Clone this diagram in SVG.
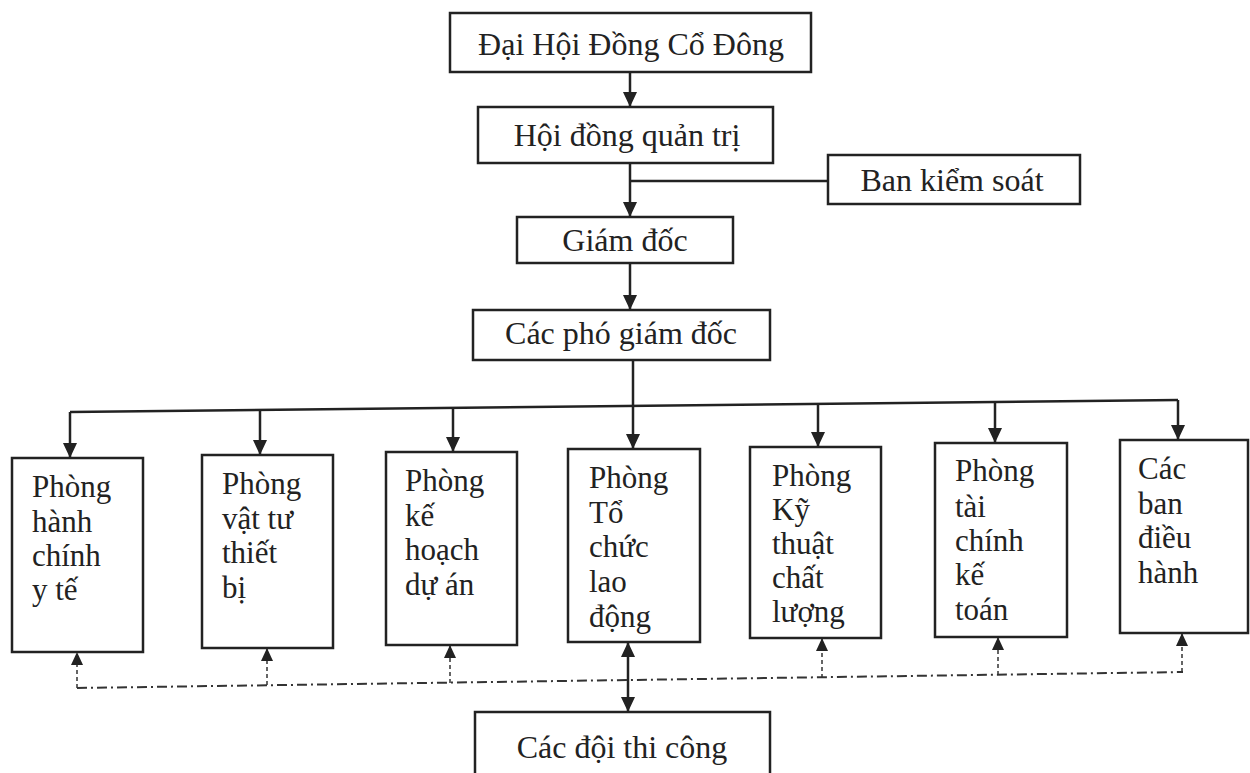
<svg xmlns="http://www.w3.org/2000/svg" width="1250" height="773" viewBox="0 0 1250 773">
<defs>
<marker id="arr" markerUnits="userSpaceOnUse" markerWidth="16" markerHeight="16" refX="15" refY="8" orient="auto-start-reverse">
<path d="M0,1 L15,8 L0,15 Z" fill="#222"/>
</marker>
<marker id="arrs" markerUnits="userSpaceOnUse" markerWidth="14" markerHeight="14" refX="13" refY="7" orient="auto-start-reverse">
<path d="M0,1 L13,7 L0,13 Z" fill="#222"/>
</marker>
</defs>
<style>
.box{fill:#fff;stroke:#222;stroke-width:2.5}
.t{font-family:"Liberation Serif","Times New Roman",serif;font-size:32px;fill:#222}
.d{font-family:"Liberation Serif","Times New Roman",serif;font-size:31px;fill:#222}
.c{stroke:#222;stroke-width:2.5;fill:none}
.dd{stroke:#333;stroke-width:2;fill:none;stroke-dasharray:10 4 2 4}
.dv{stroke:#333;stroke-width:1.5;fill:none;stroke-dasharray:4 3}
</style>
<rect width="1250" height="773" fill="#fff"/>
<g id="connectors">
<path class="c" d="M630,72 V107" marker-end="url(#arr)"/>
<path class="c" d="M630,163 V217" marker-end="url(#arr)"/>
<path class="c" d="M630,181 H828"/>
<path class="c" d="M630,263 V310" marker-end="url(#arr)"/>
<path class="c" d="M633,360 V449" marker-end="url(#arr)"/>
<path class="c" d="M70,412 L1178,400"/>
<path class="c" d="M70,412 V458" marker-end="url(#arr)"/>
<path class="c" d="M260,410 V455" marker-end="url(#arr)"/>
<path class="c" d="M453,408 V452" marker-end="url(#arr)"/>
<path class="c" d="M818,404 V447" marker-end="url(#arr)"/>
<path class="c" d="M995,402 V443" marker-end="url(#arr)"/>
<path class="c" d="M1178,400 V440" marker-end="url(#arr)"/>
<path class="dd" d="M77,688 L1183,672"/>
<path class="dv" d="M77,688 V652" marker-end="url(#arrs)"/>
<path class="dv" d="M267,685 V648" marker-end="url(#arrs)"/>
<path class="dv" d="M450,683 V645" marker-end="url(#arrs)"/>
<path class="dv" d="M822,678 V638" marker-end="url(#arrs)"/>
<path class="dv" d="M998,675 V637" marker-end="url(#arrs)"/>
<path class="dv" d="M1182,672 V633" marker-end="url(#arrs)"/>
<path class="c" d="M628,642 V712" marker-start="url(#arr)" marker-end="url(#arr)"/>
</g>
<g id="n-dhdcd"><rect class="box" x="450" y="13" width="361" height="59"/><text class="t" x="631" y="55" text-anchor="middle">Đại Hội Đồng Cổ Đông</text></g>
<g id="n-hdqt"><rect class="box" x="478" y="107" width="295" height="56"/><text class="t" x="627" y="146" text-anchor="middle">Hội đồng quản trị</text></g>
<g id="n-bks"><rect class="box" x="828" y="155" width="252" height="49"/><text class="t" x="952" y="191" text-anchor="middle">Ban kiểm soát</text></g>
<g id="n-gd"><rect class="box" x="517" y="217" width="216" height="46"/><text class="t" x="625" y="251" text-anchor="middle">Giám đốc</text></g>
<g id="n-pgd"><rect class="box" x="473" y="310" width="297" height="50"/><text class="t" x="621" y="344" text-anchor="middle">Các phó giám đốc</text></g>
<g id="n-hcyt"><rect class="box" x="12" y="458" width="131" height="194"/><text class="d" x="32"><tspan x="32" y="497">Phòng</tspan><tspan x="32" y="532">hành</tspan><tspan x="32" y="566">chính</tspan><tspan x="32" y="600">y tế</tspan></text></g>
<g id="n-vttb"><rect class="box" x="202" y="455" width="131" height="193"/><text class="d"><tspan x="222" y="494">Phòng</tspan><tspan x="222" y="529">vật tư</tspan><tspan x="222" y="563">thiết</tspan><tspan x="222" y="598">bị</tspan></text></g>
<g id="n-khda"><rect class="box" x="386" y="452" width="131" height="193"/><text class="d"><tspan x="405" y="491">Phòng</tspan><tspan x="405" y="526">kế</tspan><tspan x="405" y="560">hoạch</tspan><tspan x="405" y="595">dự án</tspan></text></g>
<g id="n-tcld"><rect class="box" x="568" y="449" width="132" height="193"/><text class="d"><tspan x="589" y="488">Phòng</tspan><tspan x="589" y="523">Tổ</tspan><tspan x="589" y="557">chức</tspan><tspan x="589" y="592">lao</tspan><tspan x="589" y="627">động</tspan></text></g>
<g id="n-ktcl"><rect class="box" x="750" y="447" width="131" height="191"/><text class="d"><tspan x="772" y="486">Phòng</tspan><tspan x="772" y="520">Kỹ</tspan><tspan x="772" y="554">thuật</tspan><tspan x="772" y="588">chất</tspan><tspan x="772" y="622">lượng</tspan></text></g>
<g id="n-tckt"><rect class="box" x="935" y="443" width="132" height="194"/><text class="d"><tspan x="955" y="481">Phòng</tspan><tspan x="955" y="517">tài</tspan><tspan x="955" y="551">chính</tspan><tspan x="955" y="585">kế</tspan><tspan x="955" y="620">toán</tspan></text></g>
<g id="n-bdh"><rect class="box" x="1120" y="440" width="128" height="193"/><text class="d"><tspan x="1138" y="479">Các</tspan><tspan x="1138" y="514">ban</tspan><tspan x="1138" y="548">điều</tspan><tspan x="1138" y="583">hành</tspan></text></g>
<g id="n-dtc"><rect class="box" x="475" y="712" width="295" height="70"/><text class="t" x="622" y="758" text-anchor="middle">Các đội thi công</text></g>
</svg>
